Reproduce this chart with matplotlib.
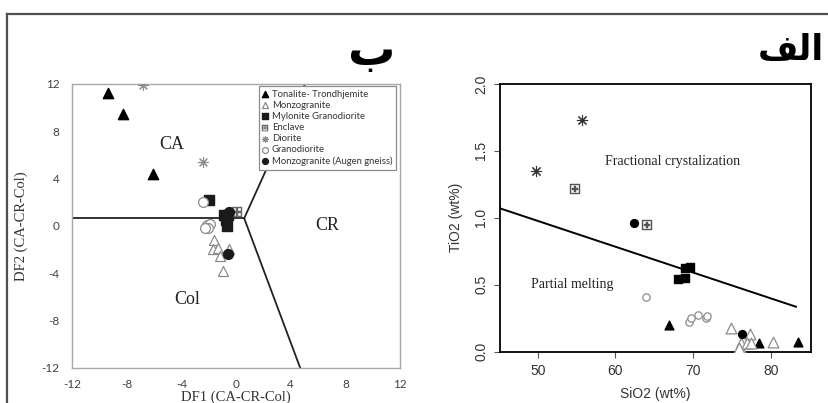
import matplotlib
matplotlib.use("Agg")
import matplotlib.pyplot as plt
from matplotlib.lines import Line2D

plt.rcParams["axes.unicode_minus"] = False

# ---- data: left panel (DF1 vs DF2 discrimination) ----
df_tonalite_x = [-9.4, -8.3, -6.1]
df_tonalite_y = [11.25, 9.45, 4.4]
df_monzo_x = [-1.6, -1.65, -1.35, -1.2, -0.5, -0.95]
df_monzo_y = [-1.15, -1.95, -1.9, -2.55, -1.95, -3.8]
df_mylonite_x = [-2.0, -0.85, -0.7, -0.65, -0.6]
df_mylonite_y = [2.2, 0.9, 0.5, 0.0, 0.9]
df_enclave_x = [0.1]
df_enclave_y = [1.15]
df_diorite_x = [-6.8, -2.45]
df_diorite_y = [11.95, 5.45]
df_grano_x = [-2.45, -2.15, -1.9, -2.05, -2.3]
df_grano_y = [2.05, 0.1, 0.15, -0.2, -0.15]
df_augen_x = [-0.5, -0.6]
df_augen_y = [1.2, -2.4]

# field boundaries (junction + three arms)
junction = (0.6, 0.65)
arm_ends = [(-12, 0.65), (5.05, 12), (4.7, -12)]
df_ticks = [-12, -8, -4, 0, 4, 8, 12]

# ---- data: right panel (SiO2 vs TiO2) ----
si_tonalite = [66.9, 78.5, 83.5]
ti_tonalite = [0.20, 0.063, 0.075]
si_monzo = [74.9, 77.3, 76.0, 76.2, 76.9, 77.4, 80.2, 75.9]
ti_monzo = [0.18, 0.13, 0.037, 0.063, 0.063, 0.063, 0.07, 0.025]
si_mylonite = [68.9, 69.6, 68.1, 68.9]
ti_mylonite = [0.623, 0.635, 0.541, 0.548]
si_enclave = [54.8, 64.0]
ti_enclave = [1.216, 0.949]
si_diorite = [55.7, 49.8]
ti_diorite = [1.73, 1.35]
si_grano = [63.9, 69.5, 69.7, 70.6, 71.7, 71.8]
ti_grano = [0.41, 0.224, 0.249, 0.274, 0.249, 0.267]
si_augen = [62.4, 76.3]
ti_augen = [0.959, 0.13]
trend_x = [45.2, 83.2]
trend_y = [1.07, 0.336]

labels = ["Tonalite- Trondhjemite", "Monzogranite", "Mylonite Granodiorite",
          "Enclave", "Diorite", "Granodiorite", "Monzogranite (Augen gneiss)"]

SERIF = "Liberation Serif"
SANS = "Liberation Sans"
GREY = "#8c8c8c"

fig = plt.figure(figsize=(8.29, 4.03), dpi=100)

# outer frame (top and left edges only are visible)
fig.add_artist(Line2D([7 / 829, 7 / 829], [0, 1 - 14 / 403], transform=fig.transFigure,
                      color="#505050", lw=1.6))
fig.add_artist(Line2D([7 / 829, 1], [1 - 14 / 403, 1 - 14 / 403], transform=fig.transFigure,
                      color="#505050", lw=1.6))

# ================= left panel =================
ax1 = fig.add_axes([72 / 829, 35 / 403, 328 / 829, 284 / 403])
for a_end in arm_ends:
    ax1.plot([junction[0], a_end[0]], [junction[1], a_end[1]], color="#222222", lw=1.3, zorder=1)

ax1.scatter(df_tonalite_x, df_tonalite_y, marker="^", s=55, c="black", zorder=3, label=labels[0])
ax1.scatter(df_monzo_x, df_monzo_y, marker="^", s=52, facecolors="white", edgecolors=GREY,
            linewidths=0.9, zorder=3, label=labels[1])
ax1.scatter(df_mylonite_x, df_mylonite_y, marker="s", s=42, c="#1a1a1a", zorder=3, label=labels[2])
ax1.scatter(df_enclave_x, df_enclave_y, marker="$\\boxplus$", s=60, c="#666666", linewidths=0.3,
            zorder=3, label=labels[3])
ax1.scatter(df_diorite_x, df_diorite_y, marker=(8, 2, 0), s=50, c=GREY, linewidths=0.8,
            zorder=3, label=labels[4])
ax1.scatter(df_grano_x, df_grano_y, marker="o", s=50, facecolors="white", edgecolors=GREY,
            linewidths=0.9, zorder=3, label=labels[5])
ax1.scatter(df_augen_x, df_augen_y, marker="o", s=50, c="#1a1a1a", zorder=3, label=labels[6])

ax1.set_xlim(-12, 12)
ax1.set_ylim(-12, 12)
ax1.set_xticks(df_ticks)
ax1.set_yticks(df_ticks)
ax1.tick_params(length=0, labelsize=8.5, labelcolor="#404040", pad=9)
ax1.tick_params(axis="x", pad=8)
for lab in ax1.get_xticklabels() + ax1.get_yticklabels():
    lab.set_fontfamily("Lato")
for sp in ax1.spines.values():
    sp.set_color("#a8a8a8")
    sp.set_linewidth(1.0)
ax1.set_xlabel("DF1 (CA-CR-Col)", fontfamily=SERIF, fontsize=10.5, color="#333333", labelpad=0)
ax1.set_ylabel("DF2 (CA-CR-Col)", fontfamily=SERIF, fontsize=10.5, color="#333333", labelpad=10)

ax1.text(-4.7, 6.85, "CA", fontfamily=SERIF, fontsize=13, ha="center", va="center", color="#222222")
ax1.text(6.7, 0.0, "CR", fontfamily=SERIF, fontsize=13, ha="center", va="center", color="#222222")
ax1.text(-3.6, -6.25, "Col", fontfamily=SERIF, fontsize=13, ha="center", va="center", color="#222222")

leg = ax1.legend(loc="upper right", bbox_to_anchor=(0.988, 0.993), borderaxespad=0,
                 prop={"family": "Lato", "size": 6.8}, fancybox=False, framealpha=1,
                 edgecolor="#8c8c8c", handlelength=0.6, handletextpad=0.4,
                 labelspacing=0.22, borderpad=0.4, markerscale=0.6)
leg.get_frame().set_linewidth(0.9)
leg.set_zorder(5)
for t in leg.get_texts():
    t.set_color("#333333")

fig.text(372 / 829, 1 - 53 / 403, "\u0628", fontfamily="DejaVu Sans", fontweight="bold",
         fontsize=34, ha="center", va="center", color="black")

# ================= right panel =================
ax2 = fig.add_axes([500 / 829, 51.3 / 403, 310.7 / 829, 267.7 / 403])
ax2.plot(trend_x, trend_y, color="black", lw=1.4, zorder=1)

ax2.scatter(si_tonalite, ti_tonalite, marker="^", s=40, c="black", zorder=3)
ax2.scatter(si_monzo, ti_monzo, marker="^", s=60, facecolors="white", edgecolors=GREY,
            linewidths=0.9, zorder=3)
ax2.scatter(si_mylonite, ti_mylonite, marker="s", s=40, c="black", zorder=3)
ax2.scatter(si_enclave, ti_enclave, marker="$\\boxplus$", s=45, c="#555555", linewidths=0.3, zorder=3)
ax2.scatter(si_diorite, ti_diorite, marker=(8, 2, 0), s=55, c="#333333", linewidths=0.8, zorder=3)
ax2.scatter(si_grano, ti_grano, marker="o", s=28, facecolors="white", edgecolors=GREY,
            linewidths=0.9, zorder=3)
ax2.scatter(si_augen, ti_augen, marker="o", s=32, c="black", zorder=3)

ax2.set_xlim(45.15, 85.1)
ax2.set_ylim(0, 2.0)
ax2.set_xticks([50, 60, 70, 80])
ax2.set_yticks([0.0, 0.5, 1.0, 1.5, 2.0])
ax2.set_yticklabels(["0.0", "0.5", "1.0", "1.5", "2.0"], rotation=90, va="center")
ax2.tick_params(direction="out", length=4.5, width=0.8, color="#555555",
                labelsize=10, labelcolor="#333333", pad=4)
for lab in ax2.get_xticklabels() + ax2.get_yticklabels():
    lab.set_fontfamily(SANS)
for sp in ax2.spines.values():
    sp.set_color("black")
    sp.set_linewidth(1.3)
ax2.set_xlabel("SiO2 (wt%)", fontfamily=SANS, fontsize=10, color="#333333", labelpad=7)
ax2.set_ylabel("TiO2 (wt%)", fontfamily=SANS, fontsize=10, color="#333333", labelpad=8)

ax2.text(67.4, 1.42, "Fractional crystalization", fontfamily=SERIF, fontsize=10,
         ha="center", va="center", color="#222222")
ax2.text(54.45, 0.50, "Partial melting", fontfamily=SERIF, fontsize=10,
         ha="center", va="center", color="#222222")

# visual order of the presentation forms so that the word reads correctly right-to-left
fig.text(824 / 829, 1 - 50 / 403, "\ufed2\ufedf\ufe8d", fontfamily="DejaVu Sans", fontweight="bold",
         fontsize=25, ha="right", va="center", color="black")

fig.savefig("out.png", dpi=100)
